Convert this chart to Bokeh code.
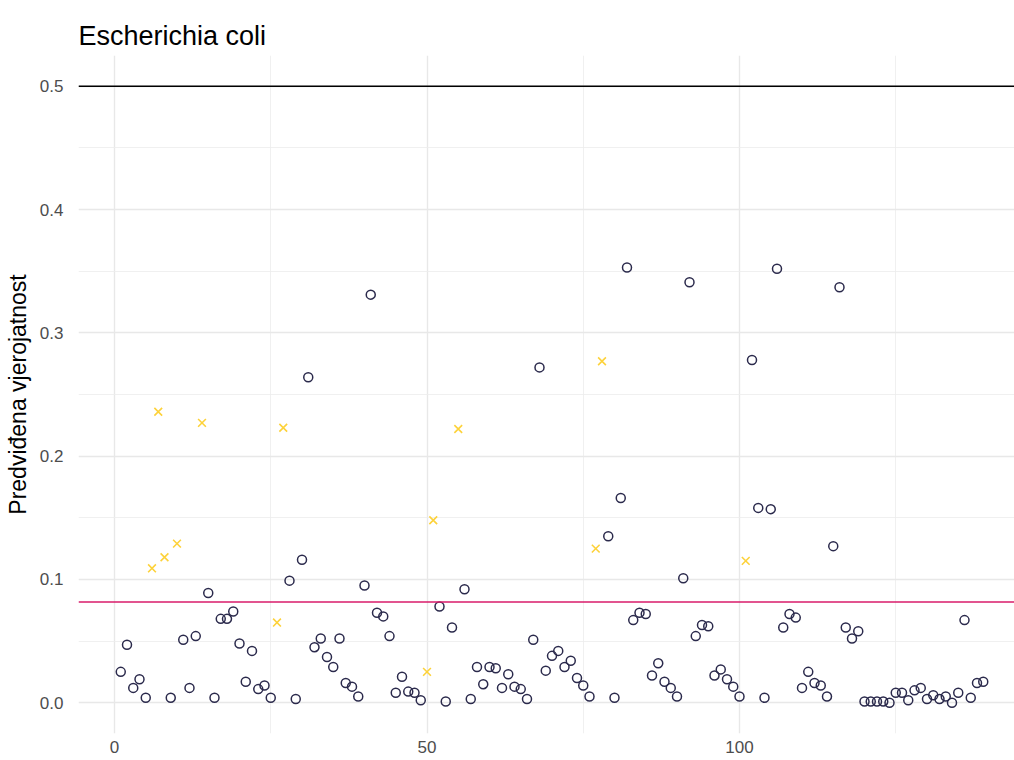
from bokeh.plotting import figure
from bokeh.models import ColumnDataSource, Span, FixedTicker, PrintfTickFormatter, Range1d
from bokeh.embed import file_html
from bokeh.resources import INLINE

# --- data -------------------------------------------------------------
title = "Escherichia coli"
y_label = "Predviđena vjerojatnost"

# predicted probability for each sample (index 1..139)
probabilities = [
    0.025, 0.047, 0.012, 0.019, 0.004, 0.109, 0.236, 0.118, 0.004, 0.129,
    0.051, 0.012, 0.054, 0.227, 0.089, 0.004, 0.068, 0.068, 0.074, 0.048,
    0.017, 0.042, 0.011, 0.014, 0.004, 0.065, 0.223, 0.099, 0.003, 0.116,
    0.264, 0.045, 0.052, 0.037, 0.029, 0.052, 0.016, 0.013, 0.005, 0.095,
    0.331, 0.073, 0.070, 0.054, 0.008, 0.021, 0.009, 0.008, 0.002, 0.025,
    0.148, 0.078, 0.001, 0.061, 0.222, 0.092, 0.003, 0.029, 0.015, 0.029,
    0.028, 0.012, 0.023, 0.013, 0.011, 0.003, 0.051, 0.272, 0.026, 0.038,
    0.042, 0.029, 0.034, 0.020, 0.014, 0.005, 0.125, 0.277, 0.135, 0.004,
    0.166, 0.353, 0.067, 0.073, 0.072, 0.022, 0.032, 0.017, 0.012, 0.005,
    0.101, 0.341, 0.054, 0.063, 0.062, 0.022, 0.027, 0.019, 0.013, 0.005,
    0.115, 0.278, 0.158, 0.004, 0.157, 0.352, 0.061, 0.072, 0.069, 0.012,
    0.025, 0.016, 0.014, 0.005, 0.127, 0.337, 0.061, 0.052, 0.058, 0.001,
    0.001, 0.001, 0.001, 0.000, 0.008, 0.008, 0.002, 0.010, 0.012, 0.003,
    0.006, 0.003, 0.005, 0.000, 0.008, 0.067, 0.004, 0.016, 0.017,
]
# samples drawn as crosses (positive class)
positive_idx = [6, 7, 8, 10, 14, 26, 27, 50, 51, 55, 77, 78, 101]

threshold_upper = 0.5
threshold_lower = 0.0817

x_ticks = [0, 50, 100]
x_minor = [25, 75, 125]
y_ticks = [0.0, 0.1, 0.2, 0.3, 0.4, 0.5]
y_minor = [0.05, 0.15, 0.25, 0.35, 0.45]

# --- build sources -----------------------------------------------------
idx = list(range(1, len(probabilities) + 1))
pos_set = set(positive_idx)
neg = dict(x=[i for i in idx if i not in pos_set],
           y=[probabilities[i - 1] for i in idx if i not in pos_set])
pos = dict(x=[i for i in idx if i in pos_set],
           y=[probabilities[i - 1] for i in idx if i in pos_set])

FONT = "Liberation Sans"

p = figure(width=1014, height=760, output_backend="svg", toolbar_location=None,
           x_range=Range1d(-5.76, 144.0), y_range=Range1d(-0.025, 0.525),
           title=title, min_border_left=78, min_border_right=0,
           min_border_top=55, min_border_bottom=27)
p.outline_line_color = None
p.background_fill_color = "white"
p.border_fill_color = "white"

p.title.text_font = FONT
p.title.text_font_size = "27px"
p.title.text_font_style = "normal"
p.title.text_color = "#000000"
p.title.align = "left"

p.xaxis.ticker = FixedTicker(ticks=x_ticks, minor_ticks=x_minor)
p.yaxis.ticker = FixedTicker(ticks=y_ticks, minor_ticks=y_minor)
p.yaxis.formatter = PrintfTickFormatter(format="%.1f")

for ax in (p.xaxis, p.yaxis):
    ax.axis_line_color = None
    ax.major_tick_line_color = None
    ax.minor_tick_line_color = None
    ax.major_label_text_font = FONT
    ax.major_label_text_font_size = "17px"
    ax.major_label_text_color = "#4d4d4d"
p.yaxis.major_label_standoff = 9
p.xaxis.major_label_standoff = 1

p.yaxis.axis_label = y_label
p.yaxis.axis_label_text_font = FONT
p.yaxis.axis_label_text_font_size = "23px"
p.yaxis.axis_label_text_font_style = "normal"
p.yaxis.axis_label_text_color = "#000000"
p.yaxis.axis_label_standoff = 6

for g in (p.xgrid, p.ygrid):
    g.grid_line_color = "#e8e8e8"
    g.grid_line_width = 1.4
    g.minor_grid_line_color = "#ececec"
    g.minor_grid_line_width = 0.8

p.scatter("x", "y", source=ColumnDataSource(neg), marker="circle", size=9,
          fill_color=None, line_color="#2B2A4C", line_width=1.5)
p.scatter("x", "y", source=ColumnDataSource(pos), marker="x", size=11,
          line_color="#FDD23A", line_width=1.6)

p.add_layout(Span(location=threshold_upper, dimension="width",
                  line_color="#000000", line_width=1.6))
p.add_layout(Span(location=threshold_lower, dimension="width",
                  line_color="#D81B6A", line_width=1.6))

open("out.html", "w").write(file_html(p, INLINE))
